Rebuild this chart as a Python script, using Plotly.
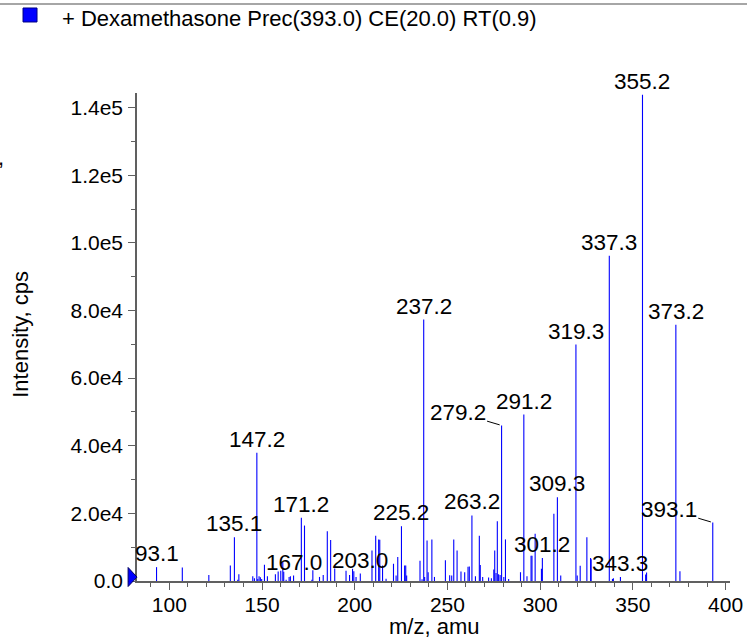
import plotly.graph_objects as go

# ---- data (m/z, intensity in cps) ----
mz = [93.1, 107.0, 121.3, 132.9, 135.1, 136.9, 137.5, 145.0, 145.9, 147.2,
      147.7, 148.4, 149.1, 149.8, 151.3, 152.9, 157.2, 158.7, 160.1, 161.2,
      161.7, 163.0, 164.6, 165.3, 167.0, 171.2, 172.9, 176.9, 177.4, 181.0,
      183.0, 185.2, 187.0, 189.2, 195.3, 197.2, 198.8, 199.5, 200.7, 203.0,
      209.3, 211.3, 212.9, 213.5, 215.0, 216.9, 220.9, 222.3, 223.2, 225.2,
      226.9, 227.5, 228.0, 235.2, 236.3, 237.2, 237.7, 239.0, 239.6, 241.6,
      243.0, 248.9, 251.2, 252.3, 253.4, 255.2, 257.3, 259.3, 261.1, 261.8,
      263.2, 265.1, 267.2, 267.7, 269.0, 272.2, 273.7, 275.0, 275.5, 276.2,
      276.9, 277.6, 278.4, 279.2, 280.4, 281.3, 283.0, 289.4, 291.2, 292.9,
      295.1, 295.6, 297.3, 300.7, 301.2, 307.4, 309.3, 311.1, 319.3, 320.0,
      321.6, 325.2, 327.2, 327.5, 337.3, 339.0, 339.5, 343.3, 355.2, 356.9,
      357.4, 373.2, 375.4, 393.1]
intensity = [4100, 4000, 1800, 4600, 12900, 400, 2000, 1400, 800, 37900,
             600, 1400, 1100, 600, 4800, 1400, 2000, 2800, 3000, 5600,
             2700, 400, 1200, 1400, 1600, 18700, 16400, 400, 3200, 1200,
             1800, 14700, 12100, 3700, 3000, 1800, 3600, 2900, 1200, 2200,
             9000, 13400, 12300, 12200, 4600, 700, 5100, 1600, 7100, 16200,
             4600, 4600, 1600, 6000, 500, 77300, 1200, 12000, 2600, 12300,
             1200, 6100, 1700, 1600, 12300, 9000, 2800, 2600, 4200, 4300,
             19400, 1400, 13400, 4700, 1200, 1000, 800, 3400, 9000, 2400,
             17700, 2000, 1800, 46000, 1200, 12300, 600, 2600, 49200, 1400,
             7500, 7500, 14000, 3600, 6800, 19900, 24800, 1600, 69900, 1600,
             4500, 12900, 6800, 6400, 96200, 600, 800, 1200, 143800, 1900,
             2500, 75800, 2900, 17300]

# labelled peaks
label_mz = [93.1, 135.1, 147.2, 167.0, 171.2, 203.0, 225.2, 237.2, 263.2,
            291.2, 301.2, 309.3, 319.3, 337.3, 343.3, 355.2, 373.2]
leader_mz = [279.2, 393.1]

x_ticks = [100, 150, 200, 250, 300, 350, 400]
y_ticks = [0, 20000, 40000, 60000, 80000, 100000, 120000, 140000]
y_tick_text = ["0.0", "2.0e4", "4.0e4", "6.0e4", "8.0e4", "1.0e5", "1.2e5", "1.4e5"]

legend_text = "+ Dexamethasone Prec(393.0) CE(20.0) RT(0.9)"
x_title = "m/z, amu"
y_title = "Intensity, cps"

FONT = "Liberation Sans, Arial, Helvetica, sans-serif"
BLUE = "#0000ff"
AXIS = "#606060"

# ---- build stick spectrum ----
xs, ys = [], []
for m, i in zip(mz, intensity):
    xs += [m, m, None]
    ys += [0, i, None]

fig = go.Figure()
fig.add_trace(go.Scatter(x=xs, y=ys, mode="lines",
                         line=dict(color=BLUE, width=1.1),
                         hoverinfo="skip", showlegend=False))

lookup = dict(zip(mz, intensity))
annotations = []
for m in label_mz:
    annotations.append(dict(x=m, y=lookup[m], text=f"{m:.1f}", showarrow=False,
                            xanchor="center", yanchor="bottom", yshift=-1,
                            font=dict(family=FONT, size=22.5, color="black")))
for m in leader_mz:
    annotations.append(dict(x=m, y=lookup[m], text=f"{m:.1f}", showarrow=True,
                            arrowhead=0, arrowwidth=1, arrowcolor="black",
                            ax=-44, ay=-13, standoff=2,
                            font=dict(family=FONT, size=22.5, color="black")))

# axis titles and legend text
annotations.append(dict(xref="paper", yref="paper", x=-0.197, y=0.505,
                        text=y_title, textangle=-90, showarrow=False,
                        xanchor="center", yanchor="middle",
                        font=dict(family=FONT, size=22, color="black")))
annotations.append(dict(xref="paper", yref="paper", x=0.501, y=-0.094,
                        text=x_title, showarrow=False,
                        xanchor="center", yanchor="middle",
                        font=dict(family=FONT, size=22, color="black")))
annotations.append(dict(xref="paper", yref="paper", x=-0.1298, y=1.152,
                        text=legend_text, showarrow=False,
                        xanchor="left", yanchor="middle",
                        font=dict(family=FONT, size=22, color="black")))
annotations.append(dict(xref="paper", yref="paper", x=-0.2290, y=0.868,
                        text=",", showarrow=False,
                        xanchor="center", yanchor="middle",
                        font=dict(family=FONT, size=22, color="black")))

shapes = [
    # top rule
    dict(type="line", xref="paper", yref="paper", x0=-0.235, x1=1.035,
         y0=1.1824, y1=1.1824, line=dict(color="#888888", width=1.5)),
    # legend swatch
    dict(type="rect", xref="paper", yref="paper", x0=-0.1922, x1=-0.1686,
         y0=1.1455, y1=1.1742, fillcolor=BLUE, line=dict(color="#000080", width=1)),
    # origin marker triangle
    dict(type="path", xref="paper", yref="paper",
         path="M -0.0150,0.0277 L 0,0.008 L -0.0150,-0.0113 Z",
         fillcolor=BLUE, line=dict(color="#000060", width=1)),
]

fig.update_layout(
    width=747, height=639, autosize=False,
    margin=dict(l=137, r=17, t=93, b=58, pad=0, autoexpand=False),
    paper_bgcolor="white", plot_bgcolor="white",
    font=dict(family=FONT, size=21, color="black"),
    annotations=annotations, shapes=shapes, showlegend=False,
    xaxis=dict(range=[82.56, 402.4], showgrid=False, zeroline=False,
               automargin=False,
               showline=True, linecolor=AXIS, linewidth=1.5,
               ticks="outside", ticklen=7, tickwidth=1.2, tickcolor=AXIS,
               tickmode="array", tickvals=x_ticks,
               ticktext=[str(v) for v in x_ticks],
               ticklabelstandoff=-3,
               tickfont=dict(family=FONT, size=21, color="black"),
               minor=dict(ticks="outside", ticklen=4, tickwidth=1.2,
                          tickcolor=AXIS, dtick=10, tick0=0, showgrid=False)),
    yaxis=dict(range=[0, 144300], showgrid=False, zeroline=False,
               automargin=False,
               showline=True, linecolor=AXIS, linewidth=1.5,
               ticks="outside", ticklen=7, tickwidth=1.2, tickcolor=AXIS,
               tickmode="array", tickvals=y_ticks, ticktext=y_tick_text,
               ticklabelstandoff=1,
               tickfont=dict(family=FONT, size=21, color="black"),
               minor=dict(ticks="outside", ticklen=4, tickwidth=1.2,
                          tickcolor=AXIS, dtick=10000, tick0=0, showgrid=False)),
)

fig.write_html("out.html", config={"displayModeBar": False},
               post_script="document.body.style.margin='0';document.body.style.overflow='hidden';")
